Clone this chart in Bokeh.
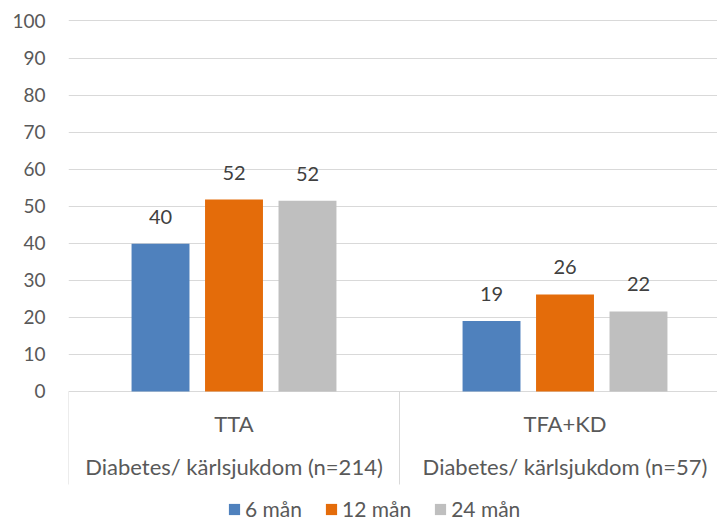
from bokeh.plotting import figure
from bokeh.models import Range1d, FixedTicker, Legend, LegendItem
from bokeh.core.properties import value
from bokeh.embed import file_html
from bokeh.resources import INLINE

# ---- data ----
groups = ["TTA", "TFA+KD"]
group_subtitles = ["Diabetes/ kärlsjukdom (n=214)", "Diabetes/ kärlsjukdom (n=57)"]
series = ["6 mån", "12 mån", "24 mån"]
colors = ["#4F81BD", "#E46C0A", "#BFBFBF"]
v6 = [39.9, 19.0]
v12 = [51.8, 26.2]
v24 = [51.5, 21.6]
y_ticks = [0, 10, 20, 30, 40, 50, 60, 70, 80, 90, 100]

FONT = "Lato"
TXT = "#595959"
GRID = "#D9D9D9"

p = figure(width=717, height=521, output_backend="svg", toolbar_location=None,
           x_range=Range1d(0, 1.9607), y_range=Range1d(-35.09, 105.53),
           min_border_left=68, min_border_right=0, min_border_top=0, min_border_bottom=0)
p.outline_line_color = None
p.background_fill_color = "white"
p.border_fill_color = "white"
p.xaxis.visible = False
p.xgrid.visible = False

ya = p.yaxis[0]
ya.ticker = FixedTicker(ticks=y_ticks)
ya.axis_line_color = None
ya.major_tick_line_color = None
ya.minor_tick_line_color = None
ya.major_tick_out = 0
ya.major_label_standoff = 23
ya.major_label_text_font = FONT
ya.major_label_text_font_size = "19px"
ya.major_label_text_color = TXT
p.ygrid[0].ticker = FixedTicker(ticks=y_ticks)
p.ygrid[0].grid_line_color = GRID
p.ygrid[0].grid_line_width = 1

offsets = [-0.222, 0.0, 0.222]
bar_w = 0.175
items = []
for vals, off, col, name in zip([v6, v12, v24], offsets, colors, series):
    xs = [i + 0.5 + off for i in range(len(groups))]
    r = p.vbar(x=xs, top=vals, bottom=0, width=bar_w, fill_color=col, line_color=None)
    items.append(LegendItem(label=name, renderers=[r]))
    p.text(x=xs, y=vals, text=[str(int(round(v))) for v in vals],
           text_align="center", text_baseline="alphabetic", y_offset=-27,
           text_font=value(FONT), text_font_size="20px", text_color="#404040")

centers = [i + 0.5 for i in range(len(groups))]
p.text(x=centers, y=[-8.6] * len(groups), text=groups, text_align="center",
       text_baseline="middle", text_font=value(FONT), text_font_size="22px", text_color=TXT)
p.text(x=centers, y=[-20.2] * len(groups), text=group_subtitles, text_align="center",
       text_baseline="middle", text_font=value(FONT), text_font_size="22px", text_color=TXT)

bounds = list(range(len(groups) + 1))
p.segment(x0=bounds, y0=[0] * len(bounds), x1=bounds, y1=[-25.1] * len(bounds),
          line_color=GRID, line_width=1)

legend = Legend(items=items, orientation="horizontal", location=(159, 0),
                glyph_width=14, glyph_height=14, label_standoff=4, spacing=22,
                padding=0, margin=0, border_line_color=None, background_fill_alpha=0,
                label_text_font=FONT, label_text_font_size="21px", label_text_color=TXT)
p.add_layout(legend)

open("out.html", "w").write(file_html(p, INLINE))
